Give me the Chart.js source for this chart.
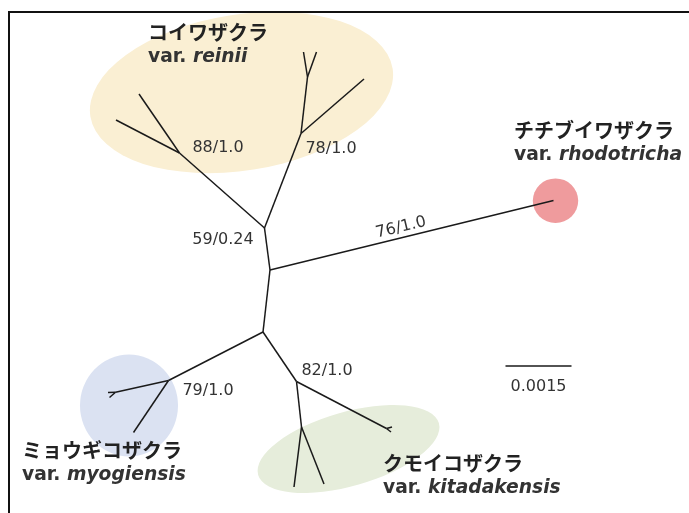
<!DOCTYPE html>
<html>
<head>
<meta charset="utf-8">
<script src="https://cdn.jsdelivr.net/npm/chart.js@4"></script>
<style>
html,body{margin:0;padding:0;background:#fff;}
#wrap{width:689px;height:513px;position:relative;}
</style>
</head>
<body>
<div id="wrap"><canvas id="c" width="689" height="513"></canvas></div>
<script>
// ---- Tree data (layout units of the unrooted tree) ----
const nodeIds = ["A","B","C","N88","R1","R2","N78","R3","N78b","R4","R5","RHO",
                 "N79","NMs","M1","M2","M3","N82","NKs","K1","K2","NK3","K3a","K3b"];
const nodeX = [264.5,270,263,179.5,116,139,301,364,307.5,303.5,316.5,553.5,
               168.5,115.5,108,109.5,133.5,296.5,301.5,294,324,386.5,392,391];
const nodeY = [228,270,332,153,120,94,133.5,79,77,52,52,200.5,
               380.5,392.3,392.5,397.5,432.5,381.5,427,487,484,428.5,427,432];
const edgeFrom = ["A","B","A","N88","N88","A","N78","N78","N78b","N78b","B","C",
                  "N79","NMs","NMs","N79","C","N82","NKs","NKs","N82","NK3","NK3"];
const edgeTo   = ["B","C","N88","R1","R2","N78","R3","N78b","R4","R5","RHO","N79",
                  "NMs","M1","M2","M3","N82","NKs","K1","K2","NK3","K3a","K3b"];

// support values at nodes
const supportText = ["88/1.0","78/1.0","59/0.24","76/1.0","79/1.0","82/1.0"];
const supportX = [218,331,223,401,208,327];
const supportY = [147.5,148.5,240,227.5,390.5,371];
const supportRot = [0,0,0,-13.5,0,0];

// clade labels
const cladeJa = ["コイワザクラ","チチブイワザクラ","ミョウギコザクラ","クモイコザクラ"];
const cladeSp = ["reinii","rhodotricha","myogiensis","kitadakensis"];
const cladeLabelX = [148,514,22,383];
const cladeLabelY = [32,130,450,463];

// clade highlight shapes: centre, semi-axes, rotation (deg)
const hlCx = [241.5,555.5,129,348.5];
const hlCy = [92.5,200.7,405.5,449];
const hlA  = [153,22.7,49,94];
const hlB  = [78,22.3,51,37];
const hlRot= [-9,0,0,-16];
const hlColor = ["#FAEFD3","#EF9B9D","#DBE2F2","#E6EDDB"];

// scale bar
const scaleBarLabel = "0.0015";
const scaleBarLen = 66;   // layout units equal to 0.0015 substitutions/site
const scaleBarX = 505.5, scaleBarY = 366;

const idx = id => nodeIds.indexOf(id);
const datasets = edgeFrom.map((f,i)=>{
  const a = idx(f), b = idx(edgeTo[i]);
  return {
    data:[{x:nodeX[a],y:nodeY[a]},{x:nodeX[b],y:nodeY[b]}],
    showLine:true, borderColor:"#1a1a1a", borderWidth:1.5,
    pointRadius:0, fill:false, tension:0
  };
});
// scale bar as data line
datasets.push({
  data:[{x:scaleBarX,y:scaleBarY},{x:scaleBarX+scaleBarLen,y:scaleBarY}],
  showLine:true, borderColor:"#1a1a1a", borderWidth:1.3, pointRadius:0
});

const decor = {
  id:"decor",
  beforeDatasetsDraw(chart){
    const {ctx, scales:{x,y}} = chart;
    ctx.save();
    for(let i=0;i<hlCx.length;i++){
      const cx = x.getPixelForValue(hlCx[i]), cy = y.getPixelForValue(hlCy[i]);
      const rx = Math.abs(x.getPixelForValue(hlCx[i]+hlA[i])-cx);
      const ry = Math.abs(y.getPixelForValue(hlCy[i]+hlB[i])-cy);
      ctx.beginPath();
      ctx.ellipse(cx,cy,rx,ry,hlRot[i]*Math.PI/180,0,Math.PI*2);
      ctx.fillStyle = hlColor[i];
      ctx.fill();
    }
    // frame
    ctx.strokeStyle="#111"; ctx.lineWidth=2;
    ctx.beginPath();
    ctx.moveTo(x.getPixelForValue(9), y.getPixelForValue(513));
    ctx.lineTo(x.getPixelForValue(9), y.getPixelForValue(12));
    ctx.lineTo(x.getPixelForValue(689), y.getPixelForValue(12));
    ctx.stroke();
    ctx.restore();
  },
  afterDatasetsDraw(chart){
    const {ctx, scales:{x,y}} = chart;
    ctx.save();
    ctx.fillStyle="#333";
    ctx.font="16px 'DejaVu Sans'";
    ctx.textAlign="center"; ctx.textBaseline="middle";
    for(let i=0;i<supportText.length;i++){
      ctx.save();
      ctx.translate(x.getPixelForValue(supportX[i]), y.getPixelForValue(supportY[i]));
      ctx.rotate(supportRot[i]*Math.PI/180);
      ctx.fillText(supportText[i],0,0);
      ctx.restore();
    }
    ctx.fillText(scaleBarLabel, x.getPixelForValue(scaleBarX+scaleBarLen/2), y.getPixelForValue(scaleBarY+21));
    ctx.textAlign="left";
    for(let i=0;i<cladeJa.length;i++){
      const px = x.getPixelForValue(cladeLabelX[i]), py = y.getPixelForValue(cladeLabelY[i]);
      ctx.fillStyle="#222";
      ctx.font="bold 20px 'Noto Sans CJK JP'";
      ctx.fillText(cladeJa[i], px, py);
      ctx.fillStyle="#333";
      ctx.font="bold 18.7px 'DejaVu Sans'";
      const v="var. ";
      ctx.fillText(v, px, py+25);
      const w = ctx.measureText(v).width;
      ctx.font="italic bold 18.7px 'DejaVu Sans'";
      ctx.fillText(cladeSp[i], px+w, py+25);
    }
    ctx.restore();
  }
};

new Chart(document.getElementById("c"),{
  type:"scatter",
  data:{datasets},
  options:{
    responsive:false, animation:false, devicePixelRatio:1,
    layout:{padding:0},
    plugins:{legend:{display:false}, tooltip:{enabled:false}},
    scales:{
      x:{type:"linear", min:0, max:689, display:false},
      y:{type:"linear", min:0, max:513, reverse:true, display:false}
    }
  },
  plugins:[decor]
});
</script>
</body>
</html>
